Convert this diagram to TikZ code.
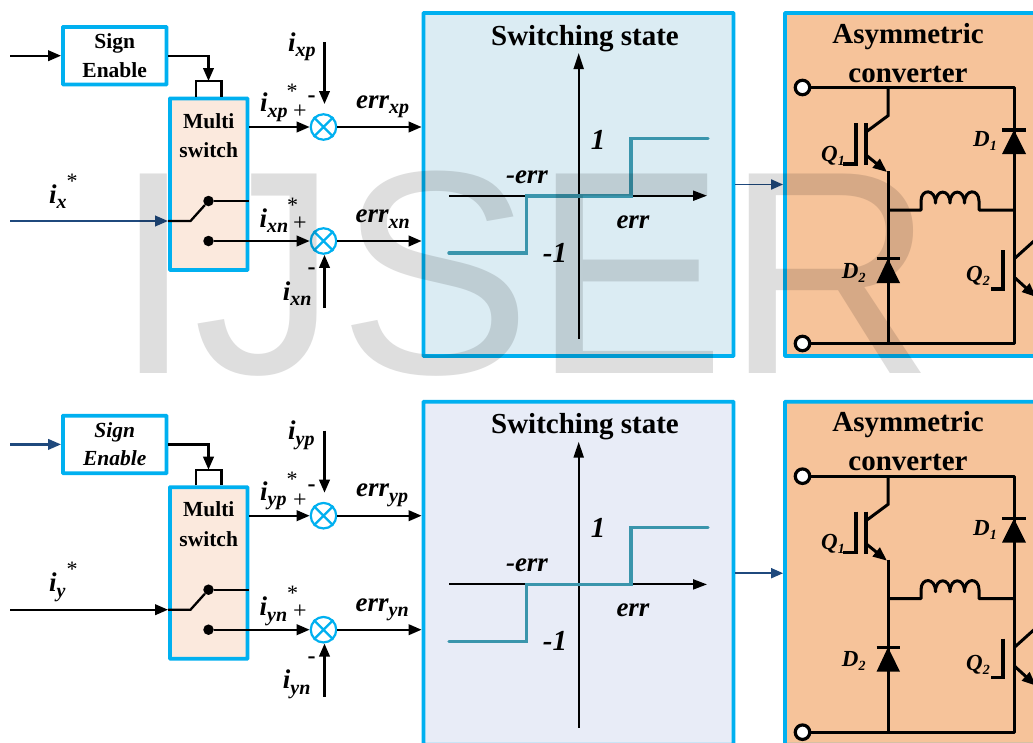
\documentclass[tikz,border=0pt]{standalone}
\usepackage{fontspec}
\setmainfont{Liberation Serif}
\newfontfamily\wmfont{Liberation Sans}
\usetikzlibrary{arrows.meta}
\definecolor{bord}{HTML}{00B0F0}
\definecolor{navy}{HTML}{1F497D}
\definecolor{stepc}{HTML}{3A95AC}
\definecolor{multif}{HTML}{FBE9DD}
\definecolor{convf}{HTML}{F6C39A}
\definecolor{panA}{HTML}{DBECF3}
\definecolor{panB}{HTML}{E8ECF7}
\definecolor{wm}{HTML}{DEDEDE}
\newcommand{\Fz}[1]{\fontsize{#1}{#1}\selectfont}
\newcommand{\Lb}[2]{{\Fz{27}\bfseries\itshape #1\raisebox{-5.5pt}{\Fz{20}\selectfont #2}}}
\newcommand{\Lc}[2]{{\Fz{23}\bfseries\itshape #1\raisebox{-4pt}{\Fz{14}\selectfont #2}}}
\tikzset{
  wire/.style={line width=2.3pt,black},
  arrowline/.style={line width=2.3pt,-{Triangle[length=13pt,width=10.5pt]}},
  thinarrow/.style={line width=1.8pt,navy,-{Triangle[length=12pt,width=10pt]}},
  frame/.style={draw=bord,line width=3.8pt,inner sep=0pt,rounded corners=0.5pt},
  txt/.style={inner sep=0pt,anchor=base west,text=black},
  ctxt/.style={inner sep=0pt,anchor=base,text=black},
  dotn/.style={circle,fill=black,inner sep=0pt,minimum size=10.5pt},
  sumn/.style={circle,draw=bord,fill=white,line width=2.2pt,inner sep=0pt,minimum size=25.5pt},
  term/.style={circle,draw=black,fill=white,line width=3.2pt,inner sep=0pt,minimum size=14.5pt},
  cw/.style={line width=3pt,black},
}
\newcommand{\Module}[7]{%
% #1 prefix, #2 offset, #3 x/y, #4 panel colour, #5 sign shape, #6 sign arrow colour, #7 input colour
\begin{scope}[shift={(0,#2)}]
  % sign and multi switch
  \node[frame,fill=white,minimum width=103.5pt,minimum height=57.5pt,align=center,font=\Fz{21.5}\bfseries#5] (#1sign) at (114.7,55.7) {Sign\\[7pt]Enable};
  \node[frame,fill=multif,minimum width=77.5pt,minimum height=171.5pt] (#1multi) at (208.7,184.2) {};
  \node[ctxt,font=\Fz{21.5}\bfseries] (#1mt) at (208.7,128) {Multi};
  \node[ctxt,font=\Fz{21.5}\bfseries] (#1st) at (208.7,157.5) {switch};
  \coordinate (#1sa) at (10,55.7);
  \draw[#6,arrowline] (#1sa) -- (#1sign.west);
  \coordinate (#1bl) at (196,81);
  \coordinate (#1br) at (221.5,81);
  \coordinate (#1bm) at (208.5,81);
  \draw[wire] (#1bl |- #1multi.north) -- (#1bl) -- (#1br) -- (#1br |- #1multi.north);
  \draw[arrowline] (#1sign.east) -| (#1bm);
  % switch
  \coordinate (#1ii) at (10,221);
  \coordinate (#1sw) at (190.5,221);
  \node[dotn] (#1da) at (208.5,201) {};
  \node[dotn] (#1db) at (208.5,241) {};
  \draw[#7,arrowline] (#1ii) -- (#1multi.west |- #1ii);
  \draw[wire] (#1multi.west |- #1ii) -- (#1sw) -- (#1da);
  \draw[wire] (#1da) -- (#1multi.east |- #1da);
  % sums
  \node[sumn] (#1sp) at (323.5,127) {};
  \node[sumn] (#1sn) at (323.5,241) {};
  \foreach \s in {#1sp,#1sn}{
    \draw[bord,line width=2.2pt] (\s.45) -- (\s.225) (\s.135) -- (\s.315);
  }
  % panels
  \node[frame,fill=#4,minimum width=310pt,minimum height=343pt] (#1pan) at (578.5,184.5) {};
  \node[frame,fill=convf,minimum width=260pt,minimum height=343pt] (#1conv) at (915,184.5) {};
  \draw[arrowline] (#1multi.east |- #1sp) -- (#1sp);
  \draw[arrowline] (#1db) -- (#1sn);
  \draw[arrowline] (#1sp) -- (#1pan.west |- #1sp);
  \draw[arrowline] (#1sn) -- (#1pan.west |- #1sn);
  \coordinate (#1fa) at (324.5,42);
  \coordinate (#1fb) at (324.5,104);
  \coordinate (#1fc) at (324.5,308);
  \draw[arrowline] (#1fa) -- (#1fb);
  \draw[arrowline] (#1fc) -- (#1sn.south -| #1fc);
  % labels left
  \node[txt] (#1l1) at (288,51) {\Lb{i}{#3p}};
  \node[txt] (#1l2) at (260,111.7) {\Lb{i}{#3p}};
  \node[txt] (#1l3) at (356,108) {\Lb{err}{#3p}};
  \node[txt] (#1l4) at (259.5,227) {\Lb{i}{#3n}};
  \node[txt] (#1l5) at (355.5,222.7) {\Lb{err}{#3n}};
  \node[txt] (#1l6) at (282.7,300) {\Lb{i}{#3n}};
  \node[txt] (#1l7) at (49,203) {{\Fz{27}\bfseries\itshape i\raisebox{-5.5pt}{\Fz{20}\selectfont #3}}};
  \node[inner sep=0pt,font=\Fz{22}] (#1s1) at (292,91) {*};
  \node[inner sep=0pt,font=\Fz{22}] (#1s2) at (292.5,205) {*};
  \node[inner sep=0pt,font=\Fz{22}] (#1s3) at (72,181) {*};
  \node[inner sep=0pt,font=\Fz{24}] (#1p1) at (300,112) {+};
  \node[inner sep=0pt,font=\Fz{24}] (#1p2) at (300,223.5) {+};
  \node[inner sep=0pt,font=\Fz{24}\bfseries] (#1m1) at (311.5,99.5) {-};
  \node[inner sep=0pt,font=\Fz{24}\bfseries] (#1m2) at (311.5,271.5) {-};
  % switching state
  \node[ctxt,font=\Fz{29}\bfseries] (#1tt) at (585,45) {Switching state};
  \coordinate (#1vb) at (578.7,339);
  \coordinate (#1vt) at (578.7,53);
  \coordinate (#1hl) at (449,195.7);
  \coordinate (#1hr) at (707,195.7);
  \draw[line width=2pt,-{Triangle[length=16pt,width=10pt]}] (#1vb) -- (#1vt);
  \draw[line width=2pt,-{Triangle[length=14pt,width=10pt]}] (#1hl) -- (#1hr);
  \coordinate (#1q0) at (449,253);
  \coordinate (#1q1) at (526.7,253);
  \coordinate (#1q2) at (526.7,196);
  \coordinate (#1q3) at (631,196);
  \coordinate (#1q4) at (631,138.5);
  \coordinate (#1q5) at (708,138.5);
  \draw[stepc,line width=3.4pt,line cap=round,line join=miter] (#1q0) -- (#1q1) -- (#1q2) -- (#1q3) -- (#1q4) -- (#1q5);
  \node[ctxt,font=\Fz{29}\bfseries\itshape] (#1o1) at (598,149) {1};
  \node[ctxt,font=\Fz{29}\bfseries\itshape] (#1o2) at (555,262) {-1};
  \node[ctxt,font=\Fz{27}\bfseries\itshape] (#1o3) at (527,183) {-err};
  \node[ctxt,font=\Fz{27}\bfseries\itshape] (#1o4) at (633,228) {err};
  \draw[thinarrow] (#1pan.east |- 0,184.5) -- (#1conv.west |- 0,184.5);
  % converter
  \node[ctxt,font=\Fz{29}\bfseries] (#1c1) at (908,43) {Asymmetric};
  \node[ctxt,font=\Fz{29}\bfseries] (#1c2) at (908,82) {converter};
  \node[term] (#1ta) at (802.5,87.5) {};
  \node[term] (#1tb) at (802.5,343.5) {};
  \coordinate (#1ne) at (1014,87.5);
  \coordinate (#1se) at (1014,343.5);
  \coordinate (#1nm) at (888,87.5);
  \coordinate (#1sm) at (888,343.5);
  \draw[cw,line join=round] (#1ta) -- (#1ne) -- (#1se) -- (#1tb);
  \draw[cw] (#1nm) -- (888,115.7) -- (866,132);
  \draw[cw] (888,171) -- (#1sm);
  % Q1
  \draw[line width=3.4pt] (866,123) -- (866,165);
  \draw[line width=3.4pt,line join=miter] (856,123) -- (856,164) -- (843,164);
  \draw[line width=3pt,-{Triangle[length=14pt,width=11pt]}] (866,155) -- (887,172);
  % Q2
  \draw[line width=3.4pt,line join=miter] (1003,250) -- (1003,289) -- (991,289);
  \draw[cw] (1014,259) -- (1034,241);
  \draw[line width=3pt,-{Triangle[length=14pt,width=11pt]}] (1014,277) -- (1036,297);
  % D1
  \fill (1002,154) -- (1026,154) -- (1014,130) -- cycle;
  \draw[line width=3.4pt] (1002,130) -- (1026,130);
  % D2
  \fill (876.5,283) -- (900,283) -- (888,258.5) -- cycle;
  \draw[line width=3.4pt] (876.5,258.5) -- (900,258.5);
  % inductor
  \draw[cw,line join=round] (888,210) -- (921,210) -- (921,201)
    .. controls (921,188.5) and (935.5,188.5) .. (935.5,203)
    .. controls (935.5,188.5) and (950,188.5) .. (950,203)
    .. controls (950,188.5) and (964.5,188.5) .. (964.5,203)
    .. controls (964.5,188.5) and (979,188.5) .. (979,201)
    -- (979,210) -- (1014,210);
  \node[txt] (#1d1) at (973,146.7) {\Lc{D}{1}};
  \node[txt] (#1d2) at (841.7,278) {\Lc{D}{2}};
  \node[txt] (#1q1l) at (821,161) {\Lc{Q}{1}};
  \node[txt] (#1q2l) at (966,281.7) {\Lc{Q}{2}};
\end{scope}}
\begin{document}
\begin{tikzpicture}[x=1pt,y=-1pt]
  \useasboundingbox (0,0) rectangle (1033,742);
  \clip (0,0) rectangle (1033,742);
  \fill[white] (0,0) rectangle (1033,742);
  \Module{a}{0}{x}{panA}{}{black}{navy}
  \Module{b}{388.7}{y}{panB}{\itshape}{navy}{black}
  \begin{scope}[blend mode=multiply]
    \node[inner sep=0pt,anchor=base west,text=wm,font={\wmfont\Fz{290}}] (mark) at (113,373) {IJSER};
  \end{scope}
\end{tikzpicture}
\end{document}
